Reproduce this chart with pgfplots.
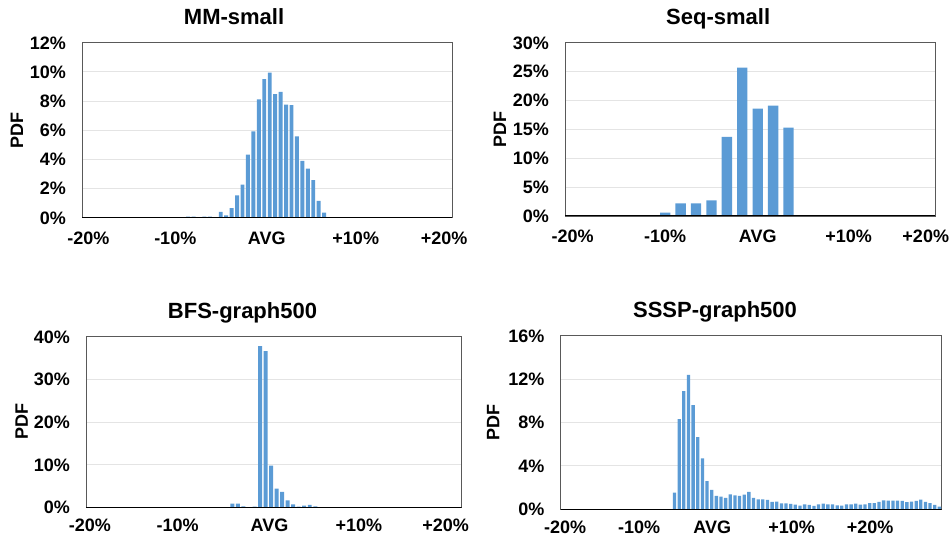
\documentclass[border=0pt]{standalone}
\usepackage{fontspec}
\setmainfont{Liberation Sans}
\usepackage{pgfplots}
\usepackage{pgfplotstable}
\pgfplotsset{compat=1.18}
\definecolor{barblue}{HTML}{5B9BD5}
\definecolor{gridgray}{HTML}{E4E4E4}
\definecolor{framegray}{HTML}{595959}

\pgfplotstableread{
x y
19 0.07
20 0.07
22 0.07
23 0.07
25 0.40
26 0.16
27 0.66
28 1.53
29 2.26
30 4.32
31 5.92
32 8.12
33 9.50
34 9.95
35 8.48
36 8.62
37 7.76
38 7.72
39 5.58
40 3.90
41 3.37
42 2.57
43 1.15
44 0.35
}\mmdata

\pgfplotstableread{
x y
6 0.58
7 2.19
8 2.19
9 2.71
10 13.68
11 25.68
12 18.58
13 19.10
14 15.29
}\seqdata

\pgfplotstableread{
x y
26 0.86
27 0.86
28 0.20
30 0.15
31 37.8
32 36.6
33 9.8
34 4.4
35 3.6
36 1.6
37 0.7
38 0.15
39 0.40
40 0.55
41 0.20
54 0.05
}\bfsdata

\pgfplotstableread{
x y
24 1.54
25 8.30
26 10.90
27 12.40
28 9.60
29 6.65
30 4.70
31 2.60
32 1.80
33 1.23
34 1.17
35 1.05
36 1.38
37 1.29
38 1.23
39 1.35
40 1.60
41 1.05
42 0.92
43 0.92
44 0.86
45 0.68
46 0.71
47 0.55
48 0.55
49 0.49
50 0.43
51 0.34
52 0.46
53 0.40
54 0.31
55 0.46
56 0.52
57 0.46
58 0.46
59 0.37
60 0.34
61 0.46
62 0.46
63 0.52
64 0.43
65 0.46
66 0.58
67 0.58
68 0.68
69 0.83
70 0.80
71 0.80
72 0.80
73 0.77
74 0.65
75 0.71
76 0.77
77 0.89
78 0.68
79 0.58
80 0.40
81 0.25
}\ssspdata

\pgfplotsset{
  panel/.style={
    scale only axis,
    anchor=south west,
    xmin=-0.5,
    ymin=0,
    axis line style={draw=framegray, line width=0.9pt},
    ymajorgrids,
    grid style={draw=gridgray, line width=0.8pt},
    major tick length=0pt,
    tick style={draw=none},
    /pgf/number format/assume math mode=true,
    tick label style={font=\fontsize{18}{18}\selectfont\bfseries},
    xticklabel style={anchor=base, inner sep=0pt, yshift=-26.8pt},
    yticklabel style={anchor=base east, inner sep=0pt, xshift=-16pt, yshift=-6.4pt},
    ylabel={PDF},
    ylabel style={font=\fontsize{18}{18}\selectfont\bfseries, anchor=center},
    every axis title/.style={anchor=base, yshift=18pt, font=\fontsize{22}{22}\selectfont\bfseries},
    xticklabels={-20\%,-10\%,AVG,+10\%,+20\%},
  },
  lowpanel/.style={
    xticklabel style={yshift=2.4pt},
  },
}

\begin{document}
\begin{tikzpicture}
\useasboundingbox (0pt,0pt) rectangle (951pt,538pt);

% MM-small
\begin{axis}[panel,
  at={(82pt,320.3pt)}, width=370pt, height=175pt,
  xmax=67.5, ymax=12,
  xtick={0.66,16.64,33.45,49.81,66.05},
  ytick={0,2,4,6,8,10,12},
  yticklabels={0\%,2\%,4\%,6\%,8\%,10\%,12\%},
  title={MM-small}, title style={at={(axis description cs:0.411,1)}},
  ylabel style={at={(axis description cs:-0.1757,0.5)}},
]
\addplot[ybar, bar width=0.72, fill=barblue, draw=none] table[x=x,y=y] {\mmdata};
\draw[black, line width=1.4pt] (rel axis cs:0,0) -- (rel axis cs:1,0);
\end{axis}

% Seq-small
\begin{axis}[panel,
  at={(565pt,322pt)}, width=370pt, height=173.3pt,
  xmax=23.5, ymax=30,
  xtick={0.0,6.0,12.0,17.9,22.9},
  ytick={0,5,10,15,20,25,30},
  yticklabels={0\%,5\%,10\%,15\%,20\%,25\%,30\%},
  title={Seq-small}, title style={at={(axis description cs:0.414,1)}},
  ylabel style={at={(axis description cs:-0.1757,0.5)}},
]
\addplot[ybar, bar width=0.67, fill=barblue, draw=none] table[x=x,y=y] {\seqdata};
\draw[black, line width=1.4pt] (rel axis cs:0,0) -- (rel axis cs:1,0);
\end{axis}

% BFS-graph500
\begin{axis}[panel, lowpanel,
  at={(86pt,30.7pt)}, width=375.7pt, height=170.6pt,
  xmax=67.5, ymax=40,
  xtick={0.22,16.1,32.7,48.9,64.6},
  ytick={0,10,20,30,40},
  yticklabels={0\%,10\%,20\%,30\%,40\%},
  title={BFS-graph500}, title style={at={(axis description cs:0.4166,1)}},
  ylabel style={at={(axis description cs:-0.171,0.5)}},
]
\addplot[ybar, bar width=0.72, fill=barblue, draw=none] table[x=x,y=y] {\bfsdata};
\draw[black, line width=1.4pt] (rel axis cs:0,0) -- (rel axis cs:1,0);
\end{axis}

% SSSP-graph500
\begin{axis}[panel, lowpanel,
  at={(560.7pt,28.7pt)}, width=381pt, height=173.6pt,
  xmax=81.5, ymax=16,
  xtick={0.43,16.4,32.1,49.2,66.1},
  ytick={0,4,8,12,16},
  yticklabels={0\%,4\%,8\%,12\%,16\%},
  title={SSSP-graph500}, title style={at={(axis description cs:0.405,1)}},
  ylabel style={at={(axis description cs:-0.177,0.5)}},
]
\addplot[ybar, bar width=0.71, fill=barblue, draw=none] table[x=x,y=y] {\ssspdata};
\draw[black, line width=1.4pt] (rel axis cs:0,0) -- (rel axis cs:1,0);
\end{axis}
\end{tikzpicture}
\end{document}
